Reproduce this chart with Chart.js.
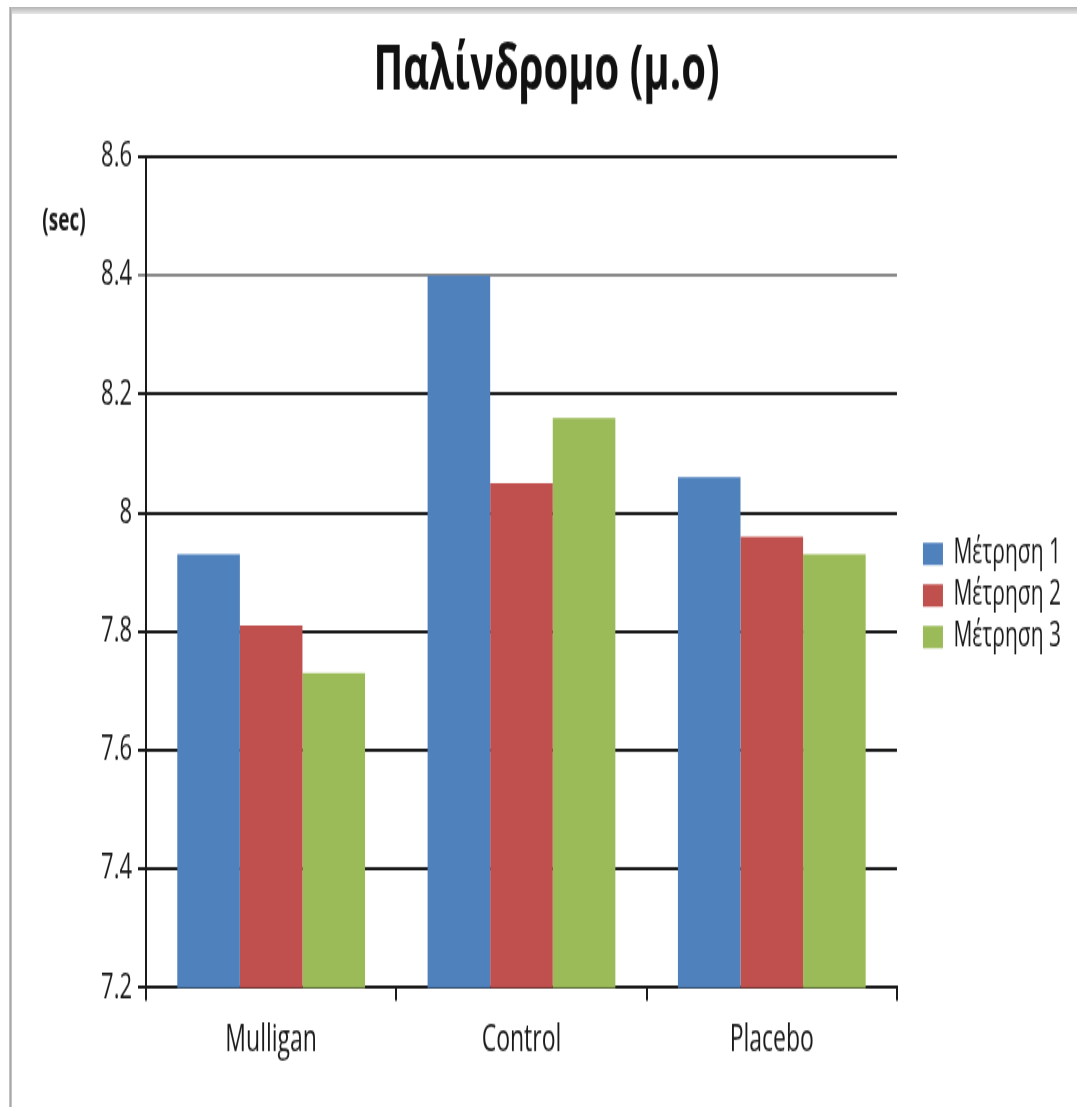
<!DOCTYPE html>
<html>
<head>
<meta charset="utf-8">
<title>Παλίνδρομο (μ.ο)</title>
<script src="https://cdn.jsdelivr.net/npm/chart.js@4/dist/chart.umd.min.js"></script>
<style>
  html, body { margin: 0; padding: 0; background: #ffffff; }
  body { width: 1077px; height: 1107px; position: relative; overflow: hidden; }
  .band { position: absolute; left: 9px; top: 7px; right: 0; height: 7px;
          background: linear-gradient(#b4b4b4, #e8e8e8); }
  .edge { position: absolute; left: 9px; top: 7px; bottom: 0; width: 3px;
          background: linear-gradient(90deg, #d0d0d0, #a8a8a8, #d0d0d0); }
  #chart { position: absolute; left: 0; top: 0; }
</style>
</head>
<body>
<div class="band"></div>
<div class="edge"></div>
<canvas id="chart" width="1077" height="692" style="width:1077px;height:1107px;"></canvas>
<script>
// Groups on the x axis
const categories = ['Mulligan', 'Control', 'Placebo'];
// Series names
const seriesNames = ['Μέτρηση 1', 'Μέτρηση 2', 'Μέτρηση 3'];
// Mean times (sec) per group for each measurement
const measurement1 = [7.93, 8.40, 8.06];
const measurement2 = [7.81, 8.05, 7.96];
const measurement3 = [7.73, 8.16, 7.93];
// Value axis ticks and their labels
const yTicks = [7.2, 7.4, 7.6, 7.8, 8.0, 8.2, 8.4, 8.6];
const yTickLabels = ['7.2', '7.4', '7.6', '7.8', '8', '8.2', '8.4', '8.6'];
const titleText = 'Παλίνδρομο (μ.ο)';
const unitLabel = '(sec)';

const seriesColors = ['#4F81BD', '#C0504D', '#9BBB59'];
const FONT = "'Open Sans', 'DejaVu Sans', sans-serif";
const INK = '#1a1a1a';

const unitLabelPlugin = {
  id: 'unitLabel',
  afterDraw(chart) {
    const { ctx, chartArea } = chart;
    ctx.save();
    ctx.font = 'bold 19px ' + FONT;
    ctx.fillStyle = INK;
    ctx.textAlign = 'center';
    ctx.textBaseline = 'middle';
    ctx.fillText(unitLabel, chartArea.left - 82, chartArea.top + 41);
    ctx.restore();
  }
};

new Chart(document.getElementById('chart'), {
  type: 'bar',
  data: {
    labels: categories,
    datasets: [measurement1, measurement2, measurement3].map((values, i) => ({
      label: seriesNames[i],
      data: values,
      backgroundColor: seriesColors[i],
      borderWidth: 0,
      categoryPercentage: 0.75,
      barPercentage: 1.0
    }))
  },
  options: {
    responsive: false,
    devicePixelRatio: 1,
    animation: false,
    layout: { padding: { left: 22, right: 6, top: 0, bottom: 17 } },
    plugins: {
      tooltip: { enabled: false },
      title: {
        display: true,
        text: titleText,
        color: '#111',
        font: { family: FONT, size: 40, weight: 'bold' },
        padding: { top: 21, bottom: 29 }
      },
      legend: {
        position: 'right',
        fullSize: false,
        title: { display: true, text: '', font: { size: 1 }, padding: { top: 0, bottom: 28 } },
        labels: {
          boxWidth: 20,
          boxHeight: 14,
          padding: 5,
          color: INK,
          font: { family: FONT, size: 21 }
        }
      }
    },
    scales: {
      x: {
        offset: true,
        grid: {
          display: true,
          offset: true,
          drawOnChartArea: false,
          drawTicks: true,
          tickLength: 8,
          color: INK,
          lineWidth: 2
        },
        border: { display: true, color: INK, width: 2 },
        ticks: {
          color: INK,
          font: { family: FONT, size: 23 },
          padding: 11,
          maxRotation: 0
        }
      },
      y: {
        min: 7.2,
        max: 8.6,
        afterBuildTicks(scale) { scale.ticks = yTicks.map(v => ({ value: v })); },
        afterFit(scale) { scale.width = 124; },
        grid: {
          color: ctx => (ctx.tick && Math.abs(ctx.tick.value - 8.4) < 1e-6) ? '#8a8a8a' : INK,
          lineWidth: 2,
          drawTicks: true,
          tickLength: 8
        },
        border: { display: true, color: INK, width: 2 },
        ticks: {
          color: INK,
          font: { family: FONT, size: 22 },
          padding: 6,
          callback: (value, index) => yTickLabels[index]
        }
      },
      gap: {
        type: 'linear',
        position: 'right',
        display: true,
        grid: { display: false },
        border: { display: false },
        ticks: { display: false },
        afterFit(scale) { scale.width = 21; }
      }
    }
  },
  plugins: [unitLabelPlugin]
});
</script>
</body>
</html>
